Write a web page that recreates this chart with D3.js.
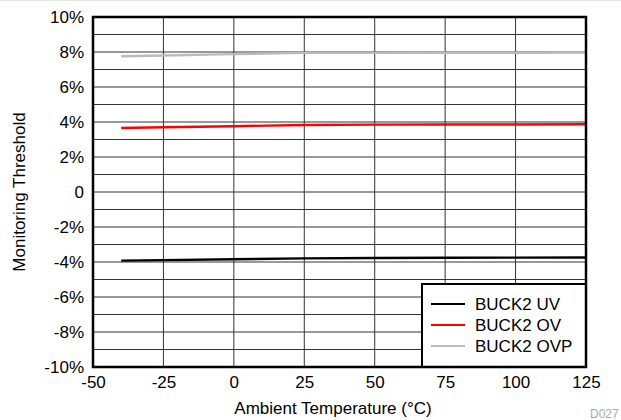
<!DOCTYPE html>
<html><head><meta charset="utf-8">
<script src="https://cdn.jsdelivr.net/npm/d3@7"></script>
<style>body{margin:0;background:#fff}svg{display:block}text{font-family:"Liberation Sans",Arial,sans-serif}</style>
</head><body><svg id="c" width="621" height="420"></svg>
<script>
const temps = [-40, -25, 0, 25, 50, 75, 100, 125];
const uv  = [-3.92, -3.89, -3.84, -3.79, -3.77, -3.76, -3.75, -3.74];
const ov  = [3.66, 3.70, 3.76, 3.83, 3.85, 3.86, 3.86, 3.87];
const ovp = [7.76, 7.80, 7.88, 7.95, 7.95, 7.96, 7.96, 7.97];
const seriesNames = ["BUCK2 UV", "BUCK2 OV", "BUCK2 OVP"];
const seriesColors = ["#000000", "#ff0000", "#bbbbbb"];
const xTicks = [-50, -25, 0, 25, 50, 75, 100, 125];
const yTicks = [-10, -8, -6, -4, -2, 0, 2, 4, 6, 8, 10];
const yGrid = d3.range(-10, 11, 1);

const svg = d3.select("#c");
const L = 93, R = 586, T = 17, B = 367;
const x = d3.scaleLinear().domain([-50, 125]).range([L, R]);
const y = d3.scaleLinear().domain([-10, 10]).range([B, T]);

svg.append("line").attr("x1",0).attr("x2",621).attr("y1",0.5).attr("y2",0.5).attr("stroke","#e6e6e6");

// grid
svg.append("g").selectAll("line").data(yGrid).join("line")
  .attr("x1", L).attr("x2", R).attr("y1", d => y(d)).attr("y2", d => y(d))
  .attr("stroke", "#333").attr("stroke-width", 1);
svg.append("g").selectAll("line").data(xTicks).join("line")
  .attr("x1", d => x(d)).attr("x2", d => x(d)).attr("y1", T).attr("y2", B)
  .attr("stroke", "#333").attr("stroke-width", 1);

// axes labels
const fmtY = d => d === 0 ? "0" : String(d) + "%";
const fmtX = d => String(d);
const ya = svg.append("g").attr("transform", `translate(${L},0)`)
  .call(d3.axisLeft(y).tickValues(yTicks).tickFormat(fmtY).tickSize(0).tickPadding(9));
const xa = svg.append("g").attr("transform", `translate(0,${B})`)
  .call(d3.axisBottom(x).tickValues(xTicks).tickFormat(fmtX).tickSize(0).tickPadding(9));
[ya, xa].forEach(a => {
  a.select(".domain").remove();
  a.selectAll("text").attr("font-size", 17).attr("fill", "#000").style("font-family", '"Liberation Sans",Arial,sans-serif');
});

// lines
const data = [uv, ov, ovp];
const line = d3.line().x((d, i) => x(temps[i])).y(d => y(d));
data.forEach((s, k) => {
  svg.append("path").datum(s).attr("d", line).attr("fill", "none")
    .attr("stroke", seriesColors[k]).attr("stroke-width", 2.4);
});

// legend
const lg = svg.append("g");
lg.append("rect").attr("x", 422).attr("y", 284).attr("width", 164).attr("height", 83)
  .attr("fill", "#fff").attr("stroke", "#000").attr("stroke-width", 2);
seriesNames.forEach((n, i) => {
  const yy = 304 + i * 21;
  lg.append("line").attr("x1", 431).attr("x2", 465).attr("y1", yy).attr("y2", yy)
    .attr("stroke", seriesColors[i]).attr("stroke-width", 2.2);
  lg.append("text").attr("x", 475).attr("y", yy).attr("dy", "0.36em")
    .attr("font-size", 17).text(n);
});

// border
svg.append("rect").attr("x", L).attr("y", T).attr("width", R - L).attr("height", B - T)
  .attr("fill", "none").attr("stroke", "#000").attr("stroke-width", 2.5);

// titles
svg.append("text").attr("x", 333).attr("y", 414).attr("text-anchor", "middle")
  .attr("font-size", 17).text("Ambient Temperature (°C)");
svg.append("text").attr("transform", "translate(25,192) rotate(-90)").attr("text-anchor", "middle")
  .attr("font-size", 17).text("Monitoring Threshold");
svg.append("text").attr("x", 590).attr("y", 418).attr("font-size", 12).attr("fill", "#aaa").text("D027");
</script></body></html>
